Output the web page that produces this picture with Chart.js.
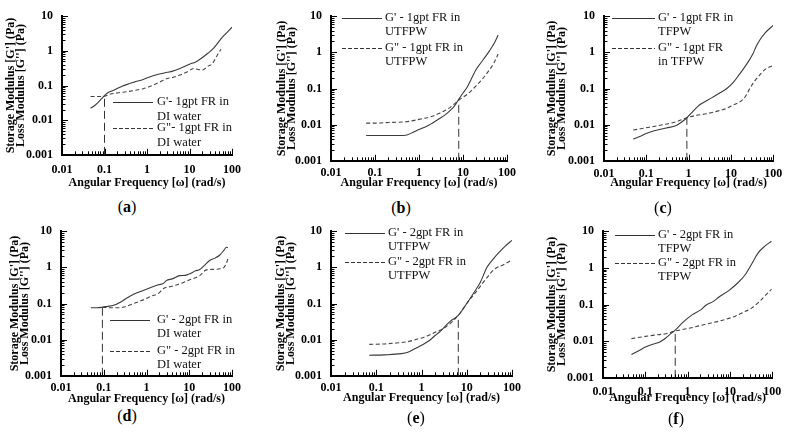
<!DOCTYPE html>
<html><head><meta charset="utf-8">
<script src="https://cdn.jsdelivr.net/npm/chart.js@4.4.1/dist/chart.umd.min.js"></script>
<style>
html,body{margin:0;padding:0;background:#fff;}
body{width:788px;height:435px;position:relative;overflow:hidden;}
canvas{position:absolute;}
.lbl{position:absolute;font-family:'Liberation Serif',serif;font-size:16px;color:#000;transform:translate(-50%,-50%);white-space:nowrap}
</style></head><body>
<script>
// ---------- tick labels / text ----------
const xTickLabels = ['0.01', '0.1', '1', '10', '100'];
const yTickLabels = ['0.001', '0.01', '0.1', '1', '10'];
const xTitle = 'Angular Frequency [ω] (rad/s)';
const yTitle = ["Storage Modulus [G'] (Pa)", "Loss Modulus [G''] (Pa)"];
const panelLetters = ['a', 'b', 'c', 'd', 'e', 'f'];

// ---------- legends ----------
const legendA = [["G'- 1gpt FR in", 'DI water'], ['G"- 1gpt FR in', 'DI water']];
const legendB = [["G' - 1gpt FR in", 'UTFPW'], ['G" - 1gpt FR in', 'UTFPW']];
const legendC = [["G' - 1gpt FR in", 'TFPW'], ['G" - 1gpt FR', 'in TFPW']];
const legendD = [["G' - 2gpt FR in", 'DI water'], ['G" - 2gpt FR in', 'DI water']];
const legendE = [["G' - 2gpt FR in", 'UTFPW'], ['G" - 2gpt FR in', 'UTFPW']];
const legendF = [["G' - 2gpt FR in", 'TFPW'], ['G" - 2gpt FR in', 'TFPW']];

// ---------- data (rad/s, Pa) ----------
// (a) 1gpt FR in DI water
const aGpX  = [0.047, 0.06, 0.075, 0.1, 0.12, 0.135, 0.16, 0.21, 0.26, 0.33, 0.5, 0.82, 1.2, 1.85, 3, 4, 6, 10, 14, 18, 27, 37, 50, 63, 80, 100];
const aGpY  = [0.022, 0.027, 0.035, 0.051, 0.062, 0.066, 0.072, 0.085, 0.095, 0.106, 0.125, 0.15, 0.18, 0.21, 0.24, 0.26, 0.31, 0.41, 0.48, 0.58, 0.85, 1.2, 1.9, 2.7, 3.6, 4.8];
const aGppX = [0.047, 0.07, 0.1, 0.12, 0.135, 0.2, 0.33, 0.5, 0.82, 1.2, 1.85, 3, 4, 6, 9, 12.5, 16, 20, 27, 34, 45, 55];
const aGppY = [0.048, 0.048, 0.049, 0.053, 0.056, 0.061, 0.066, 0.072, 0.081, 0.095, 0.12, 0.16, 0.17, 0.2, 0.25, 0.31, 0.29, 0.28, 0.36, 0.42, 0.75, 1.1];
const aCross = [0.1, 0.05];

// (b) 1gpt FR in UTFPW
const bGpX  = [0.063, 0.1, 0.2, 0.5, 0.7, 1, 1.5, 2, 3, 4, 5, 6.3, 8, 10, 12.5, 16, 20, 25, 32, 40, 50, 63];
const bGpY  = [0.005, 0.005, 0.005, 0.0051, 0.006, 0.0073, 0.009, 0.011, 0.015, 0.019, 0.024, 0.032, 0.05, 0.075, 0.11, 0.2, 0.34, 0.5, 0.75, 1.1, 1.7, 3.0];
const bGppX = [0.063, 0.1, 0.2, 0.5, 1, 2, 3, 4, 6, 8, 10, 12.5, 16, 20, 25, 32, 40, 50, 63];
const bGppY = [0.011, 0.011, 0.0115, 0.012, 0.014, 0.017, 0.021, 0.025, 0.035, 0.048, 0.057, 0.069, 0.09, 0.12, 0.16, 0.23, 0.33, 0.5, 0.9];
const bCross = [8, 0.049];

// (c) 1gpt FR in TFPW
const cGpX  = [0.049, 0.07, 0.1, 0.12, 0.2, 0.3, 0.51, 0.7, 0.91, 1.3, 1.8, 2.6, 3.5, 5.4, 8, 11, 16, 23, 33, 40, 47, 67, 100];
const cGpY  = [0.004, 0.0047, 0.0057, 0.0062, 0.0073, 0.0081, 0.0095, 0.012, 0.0155, 0.024, 0.035, 0.045, 0.055, 0.075, 0.1, 0.14, 0.25, 0.45, 0.9, 1.5, 2.1, 3.6, 5.6];
const cGppX = [0.049, 0.1, 0.2, 0.5, 0.91, 1.5, 2.6, 5, 7.7, 12, 16, 22, 27, 35, 47, 67, 100];
const cGppY = [0.0071, 0.0082, 0.0095, 0.012, 0.0155, 0.018, 0.02, 0.024, 0.028, 0.036, 0.042, 0.06, 0.093, 0.15, 0.23, 0.35, 0.43];
const cCross = [0.91, 0.0155];

// (d) 2gpt FR in DI water
const dGpX  = [0.05, 0.07, 0.093, 0.12, 0.17, 0.25, 0.34, 0.5, 0.84, 1.3, 1.9, 2.5, 2.9, 4, 6, 8, 10, 14, 17.6, 22, 30, 40, 52, 65, 74, 80];
const dGpY  = [0.076, 0.076, 0.079, 0.083, 0.089, 0.11, 0.14, 0.18, 0.23, 0.28, 0.33, 0.36, 0.43, 0.48, 0.59, 0.6, 0.65, 0.8, 0.87, 1.1, 1.55, 1.8, 2.2, 3.0, 3.6, 3.5];
const dGppX = [0.093, 0.12, 0.2, 0.3, 0.5, 0.84, 1.3, 1.9, 2.5, 4, 6, 10, 17.6, 25, 35, 52, 65, 74, 80];
const dGppY = [0.079, 0.077, 0.076, 0.08, 0.1, 0.126, 0.16, 0.19, 0.26, 0.3, 0.35, 0.45, 0.59, 0.85, 0.88, 0.91, 1.0, 1.3, 1.7];
const dCross = [0.093, 0.079];

// (e) 2gpt FR in UTFPW
const eGpX  = [0.07, 0.15, 0.36, 0.5, 0.79, 1.1, 1.5, 2, 2.6, 3.5, 4.3, 6.5, 10, 14, 20, 28, 40, 55, 70, 100];
const eGpY  = [0.0037, 0.0038, 0.0041, 0.0045, 0.006, 0.0075, 0.0095, 0.013, 0.017, 0.025, 0.032, 0.047, 0.1, 0.19, 0.39, 1.0, 1.8, 2.8, 3.8, 5.6];
const eGppX = [0.07, 0.15, 0.28, 0.5, 0.79, 1.1, 1.5, 2, 3, 4.3, 6.5, 10, 17, 28, 40, 66, 100];
const eGppY = [0.0074, 0.0076, 0.0081, 0.0088, 0.0103, 0.0115, 0.0134, 0.016, 0.02, 0.028, 0.047, 0.1, 0.23, 0.52, 0.87, 1.2, 1.6];
const eCross = [6.5, 0.047];

// (f) 2gpt FR in TFPW
const fGpX  = [0.047, 0.07, 0.107, 0.15, 0.22, 0.3, 0.4, 0.51, 0.76, 1.3, 2, 2.7, 4, 5.5, 9.4, 15, 23, 33, 47, 67, 96];
const fGpY  = [0.0043, 0.0055, 0.0071, 0.0082, 0.0095, 0.012, 0.016, 0.02, 0.032, 0.053, 0.07, 0.095, 0.12, 0.16, 0.24, 0.38, 0.65, 1.3, 2.6, 3.9, 5.3];
const fGppX = [0.047, 0.1, 0.2, 0.31, 0.51, 1, 2.7, 6, 13.4, 20, 33, 50, 70, 96];
const fGppY = [0.0117, 0.0135, 0.015, 0.016, 0.019, 0.022, 0.029, 0.036, 0.048, 0.06, 0.081, 0.12, 0.18, 0.26];
const fCross = [0.51, 0.02];

// ---------- layout (page pixels) ----------
const layouts = [
  {L:0,   T:0,   W:250, PL:62,  PT:10,  PR:232, PB:155, yT:5.7, lg:15, tg:28, let:[127,207], leg:{x0:113,x1:153,tx:157,y0:102,y1:128,dy:15}},
  {L:260, T:0,   W:262, PL:331, PT:10,  PR:507, PB:161, yT:277, lg:12, tg:22, let:[401,208], leg:{x0:342,x1:382,tx:385,y0:18,y1:48,dy:14}},
  {L:520, T:0,   W:268, PL:604, PT:10,  PR:774, PB:161, yT:547, lg:13, tg:22, let:[663,208], leg:{x0:612,x1:655,tx:658,y0:18,y1:48,dy:14}},
  {L:0,   T:215, W:250, PL:61,  PT:225, PR:232, PB:376, yT:10,  lg:12, tg:23, let:[127,416], leg:{x0:110,x1:150,tx:157,y0:320,y1:351,dy:14}},
  {L:260, T:215, W:268, PL:331, PT:225, PR:512, PB:376, yT:276, lg:12, tg:22, let:[416,418], leg:{x0:345,x1:385,tx:388,y0:233,y1:262,dy:14}},
  {L:520, T:215, W:268, PL:603, PT:224, PR:774, PB:378, yT:547, lg:14, tg:20, let:[676,419], leg:{x0:615,x1:655,tx:658,y0:235,y1:263,dy:14}}
];

const series = [
  [aGpX, aGpY, aGppX, aGppY, aCross, legendA],
  [bGpX, bGpY, bGppX, bGppY, bCross, legendB],
  [cGpX, cGpY, cGppX, cGppY, cCross, legendC],
  [dGpX, dGpY, dGppX, dGppY, dCross, legendD],
  [eGpX, eGpY, eGppX, eGppY, eCross, legendE],
  [fGpX, fGpY, fGppX, fGppY, fCross, legendF]
];

const FONT = "'Liberation Serif', 'Times New Roman', serif";
const xMin = Number(xTickLabels[0]), xMax = Number(xTickLabels[xTickLabels.length - 1]);
const yMin = Number(yTickLabels[0]), yMax = Number(yTickLabels[yTickLabels.length - 1]);

function logTicks(min, max) {
  const out = [];
  for (let e = Math.round(Math.log10(min)); e < Math.round(Math.log10(max)); e++) {
    for (let s = 1; s <= 9; s++) out.push(+(s * Math.pow(10, e)).toPrecision(6));
  }
  out.push(max);
  return out;
}
function labelFor(labels, v) {
  for (const l of labels) if (Math.abs(Number(l) - v) / v < 1e-6) return l;
  return '';
}
const zip = (xs, ys) => xs.map((x, i) => ({x, y: ys[i]}));

const innerTicks = {
  id: 'innerTicks',
  afterDraw(chart) {
    const ctx = chart.ctx, ca = chart.chartArea;
    ctx.save();
    ctx.strokeStyle = '#000';
    ctx.lineWidth = 1;
    const xs = chart.scales.x, ys = chart.scales.y;
    xs.ticks.forEach(t => {
      const major = Math.abs(Math.log10(t.value) - Math.round(Math.log10(t.value))) < 1e-6;
      const px = Math.round(xs.getPixelForValue(t.value)) + 0.5;
      ctx.beginPath(); ctx.moveTo(px, ca.bottom); ctx.lineTo(px, ca.bottom - (major ? 6 : 3.5)); ctx.stroke();
    });
    ys.ticks.forEach(t => {
      const major = Math.abs(Math.log10(t.value) - Math.round(Math.log10(t.value))) < 1e-6;
      const py = Math.round(ys.getPixelForValue(t.value)) + 0.5;
      ctx.beginPath(); ctx.moveTo(ca.left, py); ctx.lineTo(ca.left + (major ? 6 : 3.5), py); ctx.stroke();
    });
    ctx.restore();
  }
};

layouts.forEach((lay, i) => {
  const [gpX, gpY, gppX, gppY, cross, legend] = series[i];
  const H = lay.PB - lay.T + lay.tg + 7.2;
  const cv = document.createElement('canvas');
  cv.style.left = lay.L + 'px'; cv.style.top = lay.T + 'px';
  cv.style.width = lay.W + 'px'; cv.style.height = H + 'px';
  cv.width = lay.W; cv.height = H;
  document.body.appendChild(cv);

  const lbl = document.createElement('div');
  lbl.className = 'lbl';
  lbl.style.left = lay.let[0] + 'px'; lbl.style.top = lay.let[1] + 'px';
  lbl.innerHTML = '(<b>' + panelLetters[i] + '</b>)';
  document.body.appendChild(lbl);

  const legendPlugin = {
    id: 'panelLegend' + i,
    afterDraw(chart) {
      const ctx = chart.ctx, g = lay.leg;
      const ox = lay.L, oy = lay.T;
      ctx.save();
      ctx.font = '12.5px ' + FONT;
      ctx.fillStyle = '#111';
      ctx.textBaseline = 'middle';
      ctx.textAlign = 'left';
      [[g.y0, []], [g.y1, [4, 2]]].forEach(([yy, dash], k) => {
        ctx.strokeStyle = '#333'; ctx.lineWidth = 1; ctx.setLineDash(dash);
        ctx.beginPath(); ctx.moveTo(g.x0 - ox, yy - oy + 0.5); ctx.lineTo(g.x1 - ox, yy - oy + 0.5); ctx.stroke();
        ctx.setLineDash([]);
        ctx.fillText(legend[k][0], g.tx - ox, yy - oy);
        ctx.fillText(legend[k][1], g.tx - ox, yy - oy + g.dy);
      });
      ctx.restore();
    }
  };

  new Chart(cv, {
    type: 'line',
    data: {
      datasets: [
        {data: zip(gpX, gpY), borderColor: '#3a3a3a', borderWidth: 1.1, pointRadius: 0, cubicInterpolationMode: 'monotone', fill: false},
        {data: zip(gppX, gppY), borderColor: '#444', borderWidth: 1.1, borderDash: [4, 2.5], pointRadius: 0, cubicInterpolationMode: 'monotone', fill: false},
        {data: [{x: cross[0], y: yMin}, {x: cross[0], y: cross[1]}], borderColor: '#333', borderWidth: 1, borderDash: [8, 4], pointRadius: 0, fill: false}
      ]
    },
    options: {
      responsive: false, animation: false, devicePixelRatio: 1,
      layout: {padding: {left: lay.yT - lay.L, top: lay.PT - lay.T, right: lay.L + lay.W - lay.PR, bottom: 0}},
      plugins: {legend: {display: false}, tooltip: {enabled: false}},
      scales: {
        x: {
          type: 'logarithmic', min: xMin, max: xMax,
          afterBuildTicks: s => { s.ticks = logTicks(xMin, xMax).map(v => ({value: v})); },
          afterFit: s => { s.height = H - (lay.PB - lay.T); },
          grid: {display: true, drawOnChartArea: false, drawTicks: false},
          border: {display: true, color: '#000', width: 2},
          ticks: {autoSkip: false, maxRotation: 0, minRotation: 0, padding: lay.lg - 7.2, color: '#000',
                  font: {family: FONT, size: 12, weight: 'bold'},
                  callback: v => labelFor(xTickLabels, v)},
          title: {display: true, text: xTitle, color: '#000', padding: 0, font: {family: FONT, size: 12, weight: 'bold'}}
        },
        y: {
          type: 'logarithmic', min: yMin, max: yMax,
          afterBuildTicks: s => { s.ticks = logTicks(yMin, yMax).map(v => ({value: v})); },
          afterFit: s => { s.width = lay.PL - lay.yT; },
          grid: {display: true, drawOnChartArea: false, drawTicks: false},
          border: {display: true, color: '#000', width: 2},
          ticks: {autoSkip: false, padding: 9, color: '#000',
                  font: {family: FONT, size: 12, weight: 'bold'},
                  callback: v => labelFor(yTickLabels, v)},
          title: {display: true, text: yTitle, color: '#000', padding: 0, font: {family: FONT, size: 12, weight: 'bold', lineHeight: 0.85}}
        }
      }
    },
    plugins: [innerTicks, legendPlugin]
  });
});
</script>
</body></html>
